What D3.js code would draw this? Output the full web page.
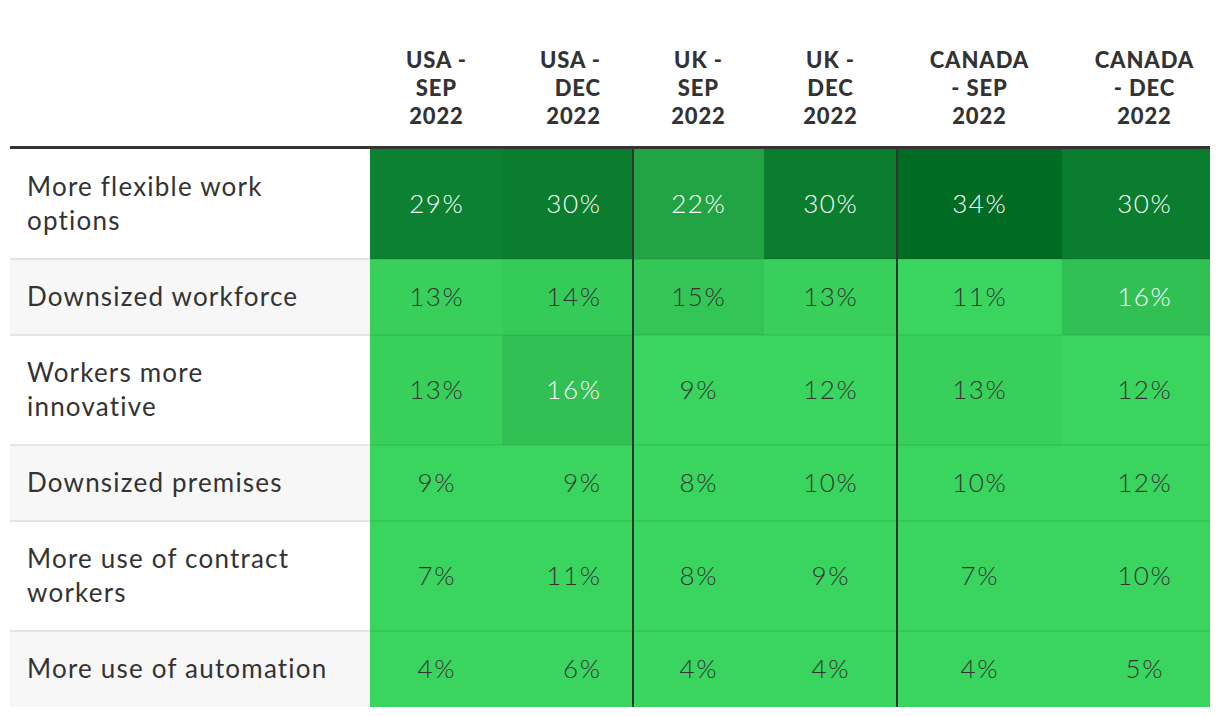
<!DOCTYPE html>
<html>
<head>
<meta charset="utf-8">
<script src="https://cdn.jsdelivr.net/npm/d3@7"></script>
<style>
  html, body { margin: 0; padding: 0; background: #fff; }
  svg { display: block; }
</style>
</head>
<body>
<svg id="chart" width="1220" height="716"></svg>
<script>
// ---- data ----
const columns = ["USA - SEP 2022", "USA - DEC 2022", "UK - SEP 2022", "UK - DEC 2022", "CANADA - SEP 2022", "CANADA - DEC 2022"];
const headerLines = [["USA -", "SEP", "2022"], ["USA -", "DEC", "2022"], ["UK -", "SEP", "2022"], ["UK -", "DEC", "2022"], ["CANADA", "- SEP", "2022"], ["CANADA", "- DEC", "2022"]];
const rowLabels = ["More flexible work options", "Downsized workforce", "Workers more innovative", "Downsized premises", "More use of contract workers", "More use of automation"];
const rowLabelLines = [["More flexible work", "options"], ["Downsized workforce"], ["Workers more", "innovative"], ["Downsized premises"], ["More use of contract", "workers"], ["More use of automation"]];
const usaSep = [29, 13, 13, 9, 7, 4];
const usaDec = [30, 14, 16, 9, 11, 6];
const ukSep  = [22, 15, 9, 8, 8, 4];
const ukDec  = [30, 13, 12, 10, 9, 4];
const canSep = [34, 11, 13, 10, 7, 4];
const canDec = [30, 16, 12, 12, 10, 5];
const seriesValues = [usaSep, usaDec, ukSep, ukDec, canSep, canDec];

// ---- layout ----
const tableLeft = 10, tableRight = 1210, dataLeft = 370;
const colEdges = [370, 502, 633, 764, 897, 1062, 1210];
const colTextX = [436, 600, 698, 830, 979, 1144];
const colAnchor = ["middle", "end", "middle", "middle", "middle", "middle"];
const headerTop = 146;
const bodyTop = 149;
const rowH1 = 76, rowH2 = 110, lineH = 34;

const svg = d3.select("#chart");
const font = "Lato, 'Open Sans', sans-serif";
const valLS = 1.6, labLS = 1.2, headLS = 0.9;

const rowHeights = rowLabelLines.map(l => l.length > 1 ? rowH2 : rowH1);
const rowTops = [];
rowHeights.reduce((acc, h) => { rowTops.push(acc); return acc + h; }, bodyTop);
const bodyBottom = bodyTop + d3.sum(rowHeights);
const yTop = d3.scaleOrdinal().domain(rowLabels).range(rowTops);
const yH = d3.scaleOrdinal().domain(rowLabels).range(rowHeights);
const xLeft = d3.scaleOrdinal().domain(columns).range(colEdges.slice(0, 6));
const xRight = d3.scaleOrdinal().domain(columns).range(colEdges.slice(1));
const xText = d3.scaleOrdinal().domain(columns).range(colTextX);

const color = d3.scaleLinear()
  .domain([12, 13, 16, 22, 29, 34])
  .range(["#3ad55e", "#38d05b", "#30c054", "#23a444", "#0c8131", "#006b22"])
  .clamp(true);

// anchor correction for trailing letter-spacing
const shift = (anchor, ls) => anchor === "middle" ? ls / 2 : anchor === "end" ? ls : 0;

svg.append("g").selectAll("rect").data(rowLabels).join("rect")
  .attr("x", tableLeft).attr("width", dataLeft - tableLeft)
  .attr("y", d => yTop(d)).attr("height", d => yH(d))
  .attr("fill", (d, i) => i % 2 === 1 ? "#f7f7f7" : "#ffffff");

const cells = [];
columns.forEach((c, ci) => rowLabels.forEach((r, ri) => cells.push({ c, r, ci, ri, v: seriesValues[ci][ri] })));

svg.append("g").selectAll("rect").data(cells).join("rect")
  .attr("x", d => xLeft(d.c)).attr("width", d => xRight(d.c) - xLeft(d.c))
  .attr("y", d => yTop(d.r)).attr("height", d => yH(d.r))
  .attr("fill", d => color(d.v));

const divs = rowLabels.slice(1);
svg.append("g").selectAll("line").data(divs).join("line")
  .attr("x1", tableLeft).attr("x2", dataLeft)
  .attr("y1", d => yTop(d)).attr("y2", d => yTop(d))
  .attr("stroke", "#e4e4e4").attr("stroke-width", 2);
svg.append("g").selectAll("line").data(divs).join("line")
  .attr("x1", dataLeft).attr("x2", tableRight)
  .attr("y1", d => yTop(d)).attr("y2", d => yTop(d))
  .attr("stroke", "rgba(0,0,0,0.06)").attr("stroke-width", 2);

svg.append("g").selectAll("text").data(cells).join("text")
  .attr("x", d => xText(d.c) + shift(colAnchor[d.ci], valLS))
  .attr("y", d => yTop(d.r) + yH(d.r) / 2 + 9)
  .attr("text-anchor", d => colAnchor[d.ci])
  .attr("font-family", font).attr("font-size", 26).attr("font-weight", 300)
  .attr("letter-spacing", valLS)
  .attr("fill", d => d.v >= 16 ? "#ffffff" : "#333333")
  .text(d => d.v + "%");

const lg = svg.append("g").selectAll("text").data(rowLabels).join("text")
  .attr("font-family", font).attr("font-size", 26).attr("font-weight", 400)
  .attr("letter-spacing", labLS)
  .attr("fill", "#333333");
lg.each(function (d, i) {
  const lines = rowLabelLines[i];
  const cy = yTop(d) + yH(d) / 2;
  const start = cy - (lines.length - 1) * lineH / 2 + 9;
  d3.select(this).selectAll("tspan").data(lines).join("tspan")
    .attr("x", 27).attr("y", (l, k) => start + k * lineH).text(l => l);
});

const hg = svg.append("g").selectAll("text").data(columns).join("text")
  .attr("font-family", font).attr("font-size", 22).attr("font-weight", 900)
  .attr("letter-spacing", headLS)
  .attr("fill", "#333333")
  .attr("text-anchor", (d, i) => colAnchor[i]);
hg.each(function (d, i) {
  d3.select(this).selectAll("tspan").data(headerLines[i]).join("tspan")
    .attr("x", xText(d) + shift(colAnchor[i], headLS)).attr("y", (l, k) => 68 + k * 28).text(l => l);
});

svg.append("rect").attr("x", tableLeft).attr("y", headerTop)
  .attr("width", tableRight - tableLeft).attr("height", 3).attr("fill", "#333333");

const seps = [columns[2], columns[4]];
svg.append("g").selectAll("line").data(seps).join("line")
  .attr("x1", d => xLeft(d)).attr("x2", d => xLeft(d))
  .attr("y1", bodyTop).attr("y2", bodyBottom)
  .attr("stroke", "#333333").attr("stroke-width", 2);
</script>
</body>
</html>
